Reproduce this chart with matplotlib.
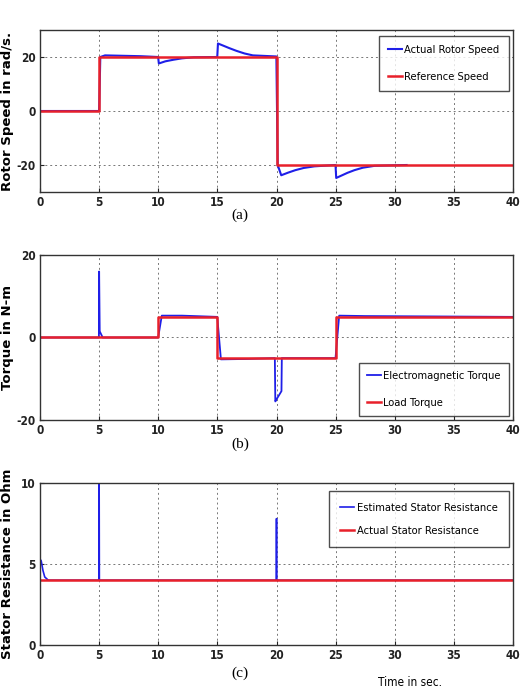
import matplotlib
matplotlib.use("Agg")
import matplotlib.pyplot as plt

# ---------------- data ----------------
time_ticks = [0, 5, 10, 15, 20, 25, 30, 35, 40]
time_ticklabels = ["0", "5", "10", "15", "20", "25", "30", "35", "40"]

# (a) rotor speed
ref_speed_t = [0, 5, 5, 20, 20, 40]
ref_speed_v = [0, 0, 20, 20, -20, -20]
act_speed_t = [0, 5, 5.1, 5.5, 8.5, 9.99, 10.05, 10.6, 11.3, 12, 13, 14.99,
               15.05, 15.5, 16, 16.6, 17.3, 18, 19.99, 20.1, 20.4, 21, 21.6,
               22.3, 23.2, 24.99, 25.05, 25.5, 26, 26.6, 27.3, 28.3, 31]
act_speed_v = [0, 0, 20, 20.6, 20.3, 20, 17.6, 18.4, 19.0, 19.5, 19.9, 20,
               25, 24.2, 23.3, 22.3, 21.3, 20.6, 20.2, -20, -23.8, -22.8, -21.9,
               -21.1, -20.5, -20, -24.8, -23.9, -22.9, -21.9, -21.0, -20.3, -20]
speed_yticks = [-20, 0, 20]

# (b) torque
load_torque_t = [0, 10, 10, 15, 15, 25, 25, 40]
load_torque_v = [0, 0, 5, 5, -5, -5, 5, 5]
em_torque_t = [0, 4.98, 5.0, 5.05, 5.3, 9.99, 10.3, 12, 14.99, 15.3, 17.5,
               19.86, 19.9, 20.0, 20.42, 20.45, 20.6, 24.99, 25.3, 27.5, 40]
em_torque_v = [0, 0, 16, 1.5, 0, 0, 5.3, 5.3, 5, -5.3, -5.2,
               -5, -15.5, -15.0, -13, -5, -5, -5, 5.3, 5.2, 5]
torque_yticks = [-20, 0, 20]

# (c) stator resistance
act_rs_t = [0, 40]
act_rs_v = [4.0, 4.0]
est_rs_t = [0, 0.1, 0.25, 0.4, 0.7, 4.98, 5.0, 5.02, 19.98, 20.0, 20.02, 40]
est_rs_v = [5.3, 5.2, 4.6, 4.2, 4.0, 4.0, 10.5, 4.0, 4.0, 7.8, 4.0, 4.0]
rs_yticks = [0, 5, 10]

# ---------------- style ----------------
BLUE = "#1f1fe8"
RED = "#e8202a"
COND = dict(family="DejaVu Sans", stretch="condensed")

fig = plt.figure(figsize=(5.22, 6.94), dpi=100)
fig.patch.set_facecolor("white")

L, W = 40 / 522, 473 / 522
positions = [
    (L, 1 - 192 / 694, W, 162 / 694),
    (L, 1 - 420 / 694, W, 165 / 694),
    (L, 1 - 645 / 694, W, 162 / 694),
]


def style_axes(ax, ylim, yticks):
    ax.set_xlim(0, 40)
    ax.set_ylim(*ylim)
    ax.set_xticks(time_ticks)
    ax.set_xticklabels(time_ticklabels, fontsize=8.5, fontweight="bold", **COND)
    ax.set_yticks(yticks)
    ax.set_yticklabels([str(v) for v in yticks], fontsize=8.5, fontweight="bold", **COND)
    ax.tick_params(direction="in", length=3, width=0.8, pad=3, colors="#222222")
    ax.grid(True, linestyle=(0, (2, 3)), color="#777777", linewidth=0.7)
    for s in ax.spines.values():
        s.set_color("#333333")
        s.set_linewidth(1.0)


def legend(ax, loc, anchor, spacing, pad):
    leg = ax.legend(loc=loc, bbox_to_anchor=anchor,
                    prop={"family": "DejaVu Sans", "stretch": "condensed", "size": 8},
                    frameon=True, fancybox=False, edgecolor="#222222",
                    handlelength=1.3, handletextpad=0.2, labelspacing=spacing,
                    borderpad=pad, borderaxespad=0.4)
    leg.get_frame().set_linewidth(1.0)


YL = dict(fontsize=9.5, fontweight="bold", family="DejaVu Sans")

# (a)
ax1 = fig.add_axes(positions[0])
ax1.plot(act_speed_t, act_speed_v, color=BLUE, lw=1.5, label="Actual Rotor Speed")
ax1.plot(ref_speed_t, ref_speed_v, color=RED, lw=1.8, label="Reference Speed")
style_axes(ax1, (-30, 30), speed_yticks)
legend(ax1, "upper right", (1.0, 0.99), 1.55, 0.8)
ax1.set_ylabel("Rotor Speed in rad/s.", **YL)

# (b)
ax2 = fig.add_axes(positions[1])
ax2.plot(em_torque_t, em_torque_v, color=BLUE, lw=1.3, label="Electromagnetic Torque")
ax2.plot(load_torque_t, load_torque_v, color=RED, lw=1.8, label="Load Torque")
style_axes(ax2, (-20, 20), torque_yticks)
legend(ax2, "lower right", (1.0, 0.0), 1.5, 0.7)
ax2.set_ylabel("Torque in N-m", **YL)

# (c)
ax3 = fig.add_axes(positions[2])
ax3.plot(est_rs_t, est_rs_v, color=BLUE, lw=1.2, label="Estimated Stator Resistance")
ax3.plot(act_rs_t, act_rs_v, color=RED, lw=1.8, label="Actual Stator Resistance")
style_axes(ax3, (0, 10), rs_yticks)
legend(ax3, "upper right", (1.0, 0.975), 1.2, 1.0)
ax3.set_ylabel("Stator Resistance in Ohm", **YL)

for ax in (ax1, ax2, ax3):
    ax.yaxis.set_label_coords(-0.055, 0.5)

# captions
cap_font = ["Liberation Serif", "DejaVu Serif"]
fig.text(240 / 522, 1 - 215 / 694, "(a)", ha="center", va="center", fontsize=11, family=cap_font)
fig.text(240 / 522, 1 - 444 / 694, "(b)", ha="center", va="center", fontsize=11, family=cap_font)
fig.text(240 / 522, 1 - 673 / 694, "(c)", ha="center", va="center", fontsize=11, family=cap_font)
fig.text(410 / 522, 1 - 683 / 694, "Time in sec.", ha="center", va="center", fontsize=8.5, **COND)

fig.savefig("out.png", dpi=100, facecolor="white")
